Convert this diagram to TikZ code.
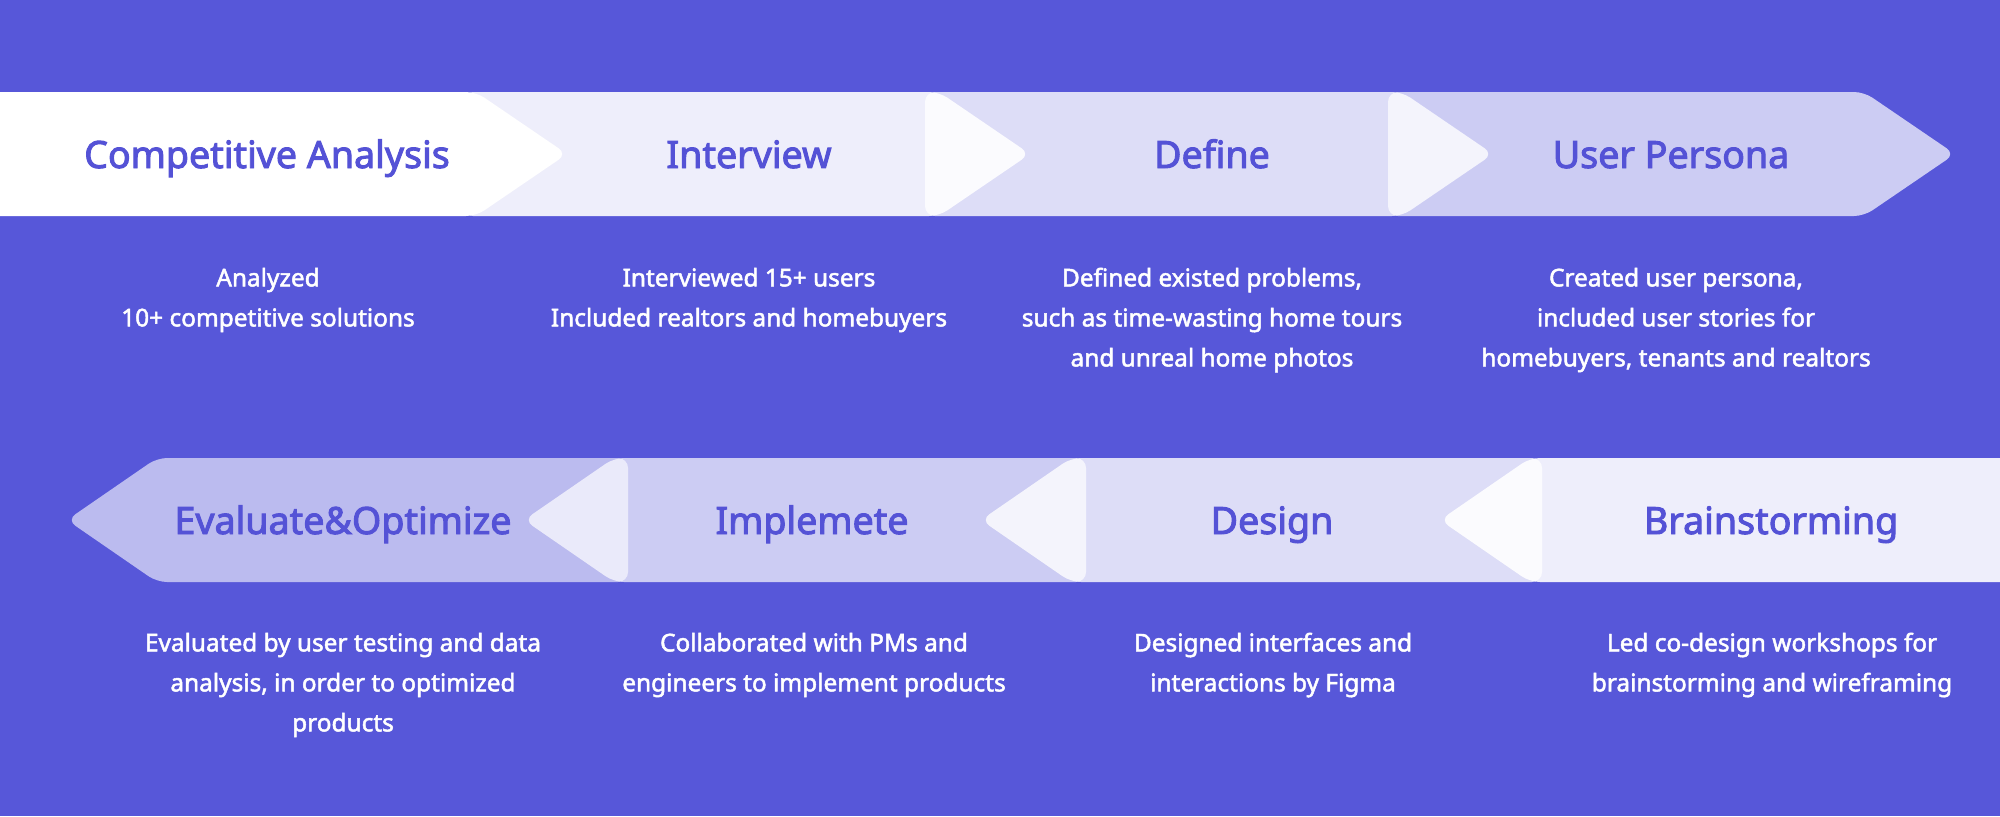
\documentclass[tikz,border=0pt]{standalone}
\usepackage{fontspec}
\setmainfont{Noto Sans}
\newfontfamily\headfont{Noto Sans}[FakeBold=2.5]
\newfontfamily\bodyfont{Noto Sans}[FakeBold=2]
\definecolor{bgblue}{RGB}{87,87,217}
\definecolor{headblue}{RGB}{84,82,214}

% right-pointing chevron: opacity, left edge, tip
\newcommand\rchev[3]{%
  \fill[panel=#1] (#3-91,92) -- (#3,154) -- (#3-91,216) -- (#2,216) -- (#2,92) -- cycle;}
% left-pointing chevron: opacity, tip, right edge
\newcommand\lchev[3]{%
  \fill[panel=#1] (#2+90,458) -- (#2,520) -- (#2+90,582) -- (#3,582) -- (#3,458) -- cycle;}

\begin{document}
\begin{tikzpicture}[x=0.5pt,y=-0.5pt,
  title/.style={font=\headfont\fontsize{18.8pt}{22pt}\selectfont, text=headblue, inner sep=0pt, anchor=base},
  note/.style={font=\bodyfont\fontsize{12.2pt}{20pt}\selectfont, text=white, align=center, inner sep=0pt},
  panel/.style={fill=white, fill opacity=#1, rounded corners=5pt}
]
\fill[bgblue] (0,0) rectangle (2000,816);
\useasboundingbox (0,0) rectangle (2000,816);

% upper row, pointing right
\rchev{1}{-30}{567}
\rchev{.9}{463}{1030}
\rchev{.8}{925}{1493}
\rchev{.7}{1388}{1955}

% lower row, pointing left
\lchev{.6}{67}{628}
\lchev{.7}{524}{1086}
\lchev{.8}{981}{1542}
\lchev{.9}{1440}{2030}

% step titles (placed on their baselines)
\node[title] (t1) at (267,168) {Competitive Analysis};
\node[title] (t2) at (749,168) {Interview};
\node[title] (t3) at (1212,168) {Define};
\node[title] (t4) at (1671,168) {User Persona};
\node[title] (t5) at (343,534) {Evaluate\&Optimize};
\node[title] (t6) at (812,534) {Implemete};
\node[title] (t7) at (1272,534) {Design};
\node[title] (t8) at (1771,534) {Brainstorming};

% step descriptions
\node[note] (d1) at (268,300) {Analyzed\\10+ competitive solutions};
\node[note] (d2) at (749,300) {Interviewed 15+ users\\Included realtors and homebuyers};
\node[note] (d3) at (1212,320) {Defined existed problems,\\such as time-wasting home tours\\and unreal home photos};
\node[note] (d4) at (1676,320) {Created user persona,\\included user stories for\\homebuyers, tenants and realtors};
\node[note] (d5) at (343,685) {Evaluated by user testing and data\\analysis, in order to optimized\\products};
\node[note] (d6) at (814,665) {Collaborated with PMs and\\engineers to implement products};
\node[note] (d7) at (1273,665) {Designed interfaces and\\interactions by Figma};
\node[note] (d8) at (1772,665) {Led co-design workshops for\\brainstorming and wireframing};
\end{tikzpicture}
\end{document}
